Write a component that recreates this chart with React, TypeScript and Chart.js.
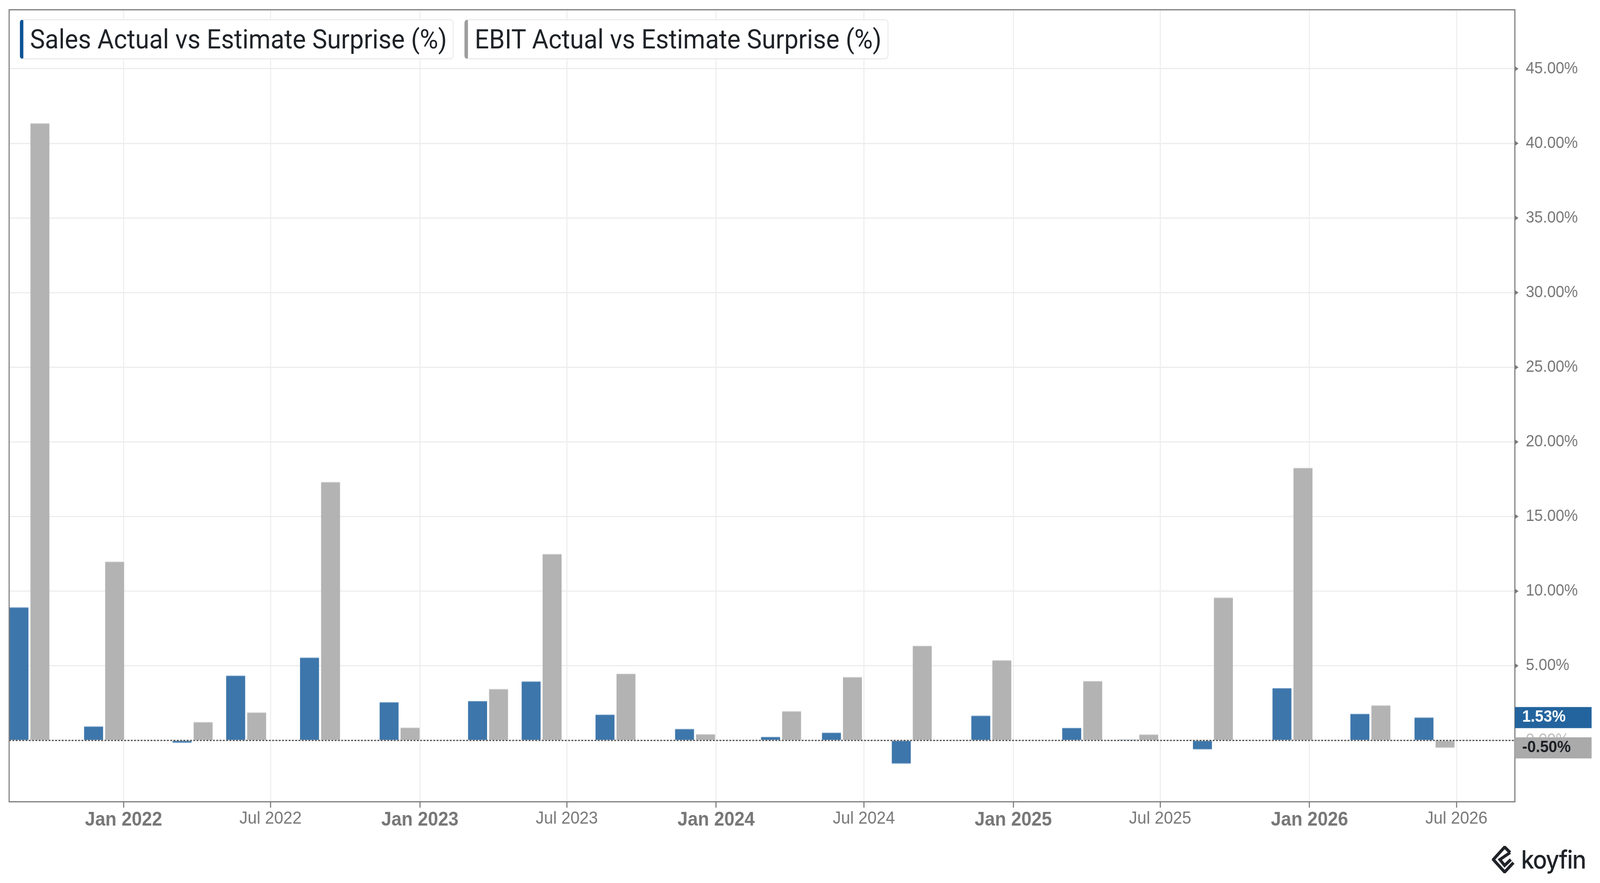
import { useEffect, useRef } from "react"
import { Chart, registerables, type ChartConfiguration, type Plugin } from "chart.js"

Chart.register(...registerables)

// report dates (one pair of bars per report)
const reportDates = [
  "2021-09-07", "2021-12-08", "2022-03-27", "2022-06-01", "2022-08-31",
  "2022-12-07", "2023-03-26", "2023-05-31", "2023-08-30", "2023-12-06",
  "2024-03-21", "2024-06-04", "2024-08-29", "2024-12-05", "2025-03-27",
  "2025-06-04", "2025-09-04", "2025-12-11", "2026-03-17", "2026-06-04",
]
const salesSurprise = [
  8.91, 0.94, -0.16, 4.34, 5.55, 2.56, 2.64, 3.95, 1.73, 0.77,
  0.24, 0.52, -1.56, 1.66, 0.84, 0.05, -0.6, 3.5, 1.78, 1.53,
]
const ebitSurprise = [
  41.35, 11.98, 1.23, 1.87, 17.31, 0.86, 3.44, 12.49, 4.47, 0.42,
  1.96, 4.25, 6.34, 5.37, 3.98, 0.4, 9.57, 18.26, 2.35, -0.5,
]
const xTickDates = [
  "2022-01-01", "2022-07-01", "2023-01-01", "2023-07-01", "2024-01-01",
  "2024-07-01", "2025-01-01", "2025-07-01", "2026-01-01", "2026-07-01",
]
const xDomain = ["2021-08-13", "2026-09-11"]
const yTicks = [0, 5, 10, 15, 20, 25, 30, 35, 40, 45]
const yDomain = [-4.11, 48.95]

const WIDTH = 4379
const HEIGHT = 2261
const SALES_COLOR = "#3d76ab"
const EBIT_COLOR = "#b3b3b3"
const AXIS_COLOR = "#7a7a7a"
const LABEL_FONT = "'Liberation Sans', Arial, sans-serif"

const MONTHS = ["Jan", "Feb", "Mar", "Apr", "May", "Jun", "Jul", "Aug", "Sep", "Oct", "Nov", "Dec"]
const DAY = 86400000
const toDay = (s: string) => Date.parse(s + "T00:00:00Z") / DAY
const isJanuary = (d: number) => new Date(d * DAY).getUTCMonth() === 0
const dayLabel = (d: number) => {
  const dt = new Date(d * DAY)
  return `${MONTHS[dt.getUTCMonth()]} ${dt.getUTCFullYear()}`
}

const chartDecor: Plugin<"bar"> = {
  id: "chartDecor",
  afterDatasetsDraw(chart) {
    // dotted zero line over the bars
    const { ctx, chartArea: a, scales } = chart
    const y0 = scales.y.getPixelForValue(0)
    ctx.save()
    ctx.strokeStyle = "#4a4a4a"
    ctx.lineWidth = 3
    ctx.setLineDash([5, 4])
    ctx.beginPath()
    ctx.moveTo(a.left, y0)
    ctx.lineTo(a.right, y0)
    ctx.stroke()
    ctx.restore()
  },
  afterDraw(chart) {
    const { ctx, chartArea: a, scales } = chart
    ctx.save()
    // frame
    ctx.strokeStyle = AXIS_COLOR
    ctx.lineWidth = 3
    ctx.strokeRect(a.left, a.top, a.right - a.left, a.bottom - a.top)
    // little arrows on the right axis
    ctx.fillStyle = AXIS_COLOR
    for (const v of yTicks) {
      const y = scales.y.getPixelForValue(v)
      ctx.beginPath()
      ctx.moveTo(a.right, y - 6.5)
      ctx.lineTo(a.right + 10, y)
      ctx.lineTo(a.right, y + 6.5)
      ctx.closePath()
      ctx.fill()
    }
    // last value tags
    const tags: [number, string, string][] = [
      [salesSurprise[salesSurprise.length - 1], "#23649e", "#ffffff"],
      [ebitSurprise[ebitSurprise.length - 1], "#aaaaaa", "#1c1f24"],
    ]
    ctx.font = `bold 42px ${LABEL_FONT}`
    ctx.textBaseline = "middle"
    ctx.textAlign = "left"
    for (const [v, bg, fg] of tags) {
      const y = scales.y.getPixelForValue(v)
      ctx.fillStyle = bg
      ctx.fillRect(a.right, y - 27, 210, 54)
      ctx.fillStyle = fg
      ctx.fillText(`${v.toFixed(2)}%`, a.right + 20, y - 1)
    }
    ctx.restore()
  },
}

export default function App() {
  const canvasRef = useRef<HTMLCanvasElement>(null)
  // the window may be narrower than the picture; squeeze the whole drawing to fit
  const fit = typeof window !== "undefined" ? Math.min(1, window.innerWidth / WIDTH) : 1

  useEffect(() => {
    document.body.style.margin = "0"
    if (!canvasRef.current) return

    const config: ChartConfiguration<"bar"> = {
      type: "bar",
      data: {
        labels: reportDates.map(toDay),
        datasets: [
          {
            label: "Sales Actual vs Estimate Surprise (%)",
            data: salesSurprise,
            backgroundColor: SALES_COLOR,
            borderColor: "#79a2c9",
            borderWidth: { top: 2, bottom: 2, left: 0, right: 0 },
            borderSkipped: "start",
          },
          {
            label: "EBIT Actual vs Estimate Surprise (%)",
            data: ebitSurprise,
            backgroundColor: EBIT_COLOR,
            borderColor: "#d2d2d2",
            borderWidth: { top: 2, bottom: 2, left: 0, right: 0 },
            borderSkipped: "start",
          },
        ],
      },
      options: {
        animation: false,
        responsive: true,
        maintainAspectRatio: false,
        barThickness: 57.5,
        maxBarThickness: 52,
        layout: { padding: { left: 25, top: 25, right: 0, bottom: 0 } },
        plugins: {
          legend: { display: false },
          tooltip: { enabled: false },
        },
        scales: {
          x: {
            type: "linear",
            offset: false,
            min: toDay(xDomain[0]),
            max: toDay(xDomain[1]),
            afterBuildTicks: (scale) => {
              scale.ticks = xTickDates.map((d) => ({ value: toDay(d) }))
            },
            afterFit: (scale) => {
              scale.height = 208
              scale.paddingLeft = 0
              scale.paddingRight = 0
            },
            border: { display: false },
            grid: {
              offset: false,
              color: "#eeeeee",
              lineWidth: 3,
              tickColor: AXIS_COLOR,
              tickLength: 15,
              tickWidth: 3,
            },
            ticks: {
              autoSkip: false,
              maxRotation: 0,
              padding: 2,
              color: "#777777",
              font: (ctx) =>
                ctx.tick && isJanuary(ctx.tick.value)
                  ? { family: LABEL_FONT, size: 50, weight: "bold" }
                  : { family: LABEL_FONT, size: 45, weight: "normal" },
              callback: (v) => dayLabel(Number(v)),
            },
          },
          y: {
            position: "right",
            min: yDomain[0],
            max: yDomain[1],
            afterBuildTicks: (scale) => {
              scale.ticks = yTicks.map((v) => ({ value: v }))
            },
            afterFit: (scale) => {
              scale.width = 233
              scale.paddingTop = 0
              scale.paddingBottom = 0
            },
            border: { display: false },
            grid: {
              color: "#ededed",
              lineWidth: 3,
              drawTicks: false,
            },
            ticks: {
              padding: 30,
              color: (ctx) => (ctx.tick && ctx.tick.value === 0 ? "#bdbdbd" : "#777777"),
              font: { family: LABEL_FONT, size: 42 },
              callback: (v) => `${Number(v).toFixed(2)}%`,
            },
          },
        },
      },
      plugins: [chartDecor],
    }

    const chart = new Chart(canvasRef.current, config)
    return () => chart.destroy()
  }, [])

  const legendBox = (color: string): React.CSSProperties => ({
    boxSizing: "border-box",
    height: 103,
    display: "flex",
    alignItems: "center",
    padding: "0 16px 0 18px",
    border: "3px solid #ececec",
    borderLeft: `10px solid ${color}`,
    borderRadius: 10,
    background: "#ffffff",
    whiteSpace: "nowrap",
  })

  return (
    <div
      style={{
        position: "fixed",
        left: 0,
        top: 0,
        width: WIDTH,
        height: HEIGHT,
        background: "#ffffff",
        overflow: "hidden",
        transform: `scaleX(${fit})`,
        transformOrigin: "0 0",
      }}
    >
      <canvas ref={canvasRef} />
      <div
        style={{
          position: "absolute",
          left: 54,
          top: 49,
          display: "flex",
          gap: 29,
          fontFamily: "Roboto, sans-serif",
          fontSize: 69,
          color: "#1f2328",
        }}
      >
        <div style={legendBox("#0b5394")}>Sales Actual vs Estimate Surprise (%)</div>
        <div style={legendBox("#9e9e9e")}>EBIT Actual vs Estimate Surprise (%)</div>
      </div>
      <div
        style={{
          position: "absolute",
          left: 4083,
          top: 2166,
          display: "flex",
          alignItems: "center",
          gap: 18,
        }}
      >
        <svg width="62" height="70" viewBox="0 0 62 70">
          <polyline
            points="50,17 35,3 4,35 35,67 59,43"
            fill="none"
            stroke="#1f2328"
            strokeWidth="8"
          />
          <polyline
            points="50,17 22,35 35,50 52,35"
            fill="none"
            stroke="#1f2328"
            strokeWidth="8"
          />
        </svg>
        <span
          style={{
            fontFamily: "Inter, sans-serif",
            fontWeight: 500,
            fontSize: 64,
            letterSpacing: -2,
            color: "#1f2328",
            lineHeight: 1,
          }}
        >
          koyfin
        </span>
      </div>
    </div>
  )
}
